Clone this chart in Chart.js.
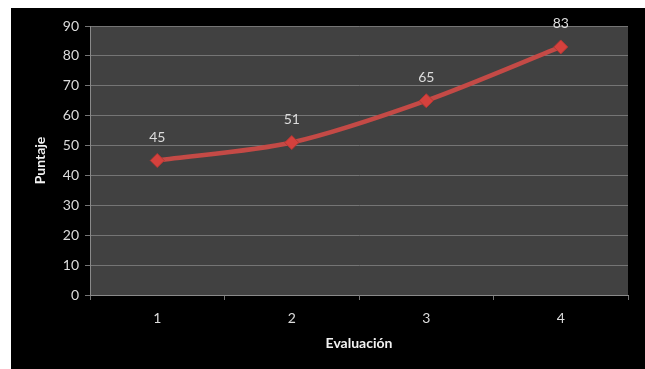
<!DOCTYPE html>
<html>
<head>
<meta charset="utf-8">
<script src="https://cdn.jsdelivr.net/npm/chart.js@4.4.1/dist/chart.umd.min.js"></script>
<style>
  html, body { margin: 0; padding: 0; background: #ffffff; }
  #wrap { position: absolute; left: 11px; top: 8px; width: 634px; height: 361px; background: #000000; }
  canvas { display: block; }
</style>
</head>
<body>
<div id="wrap"><canvas id="c" width="634" height="361"></canvas></div>
<script>
// Scores per evaluation
const evaluaciones = ['1', '2', '3', '4'];
const puntajes = [45, 51, 65, 83];
const yTicks = [0, 10, 20, 30, 40, 50, 60, 70, 80, 90];

const FONT = 'Lato, "Open Sans", sans-serif';
const TEXT = '#dcdcdc';
const GRID = '#757575';

// Dark fill behind the plotting area
const plotBackground = {
  id: 'plotBackground',
  beforeDraw(chart) {
    const { ctx, chartArea: a } = chart;
    ctx.save();
    ctx.fillStyle = '#414141';
    ctx.fillRect(a.left, a.top, a.right - a.left, a.bottom - a.top);
    ctx.restore();
  }
};

// Value written above each marker
const valueLabels = {
  id: 'valueLabels',
  afterDatasetsDraw(chart) {
    const { ctx } = chart;
    const meta = chart.getDatasetMeta(0);
    const data = chart.data.datasets[0].data;
    ctx.save();
    ctx.fillStyle = TEXT;
    ctx.font = '14px ' + FONT;
    ctx.textAlign = 'center';
    ctx.textBaseline = 'middle';
    meta.data.forEach((pt, i) => {
      ctx.fillText(String(data[i]), pt.x, pt.y - 23);
    });
    ctx.restore();
  }
};

new Chart(document.getElementById('c'), {
  type: 'line',
  data: {
    labels: evaluaciones,
    datasets: [{
      data: puntajes,
      borderColor: '#c44a46',
      borderWidth: 4.5,
      tension: 0.3,
      pointStyle: 'rectRot',
      pointRadius: 7,
      pointBackgroundColor: '#d4413d',
      pointBorderColor: '#b23733',
      pointBorderWidth: 1
    }]
  },
  options: {
    responsive: false,
    animation: false,
    layout: { padding: { left: 0, top: 18, right: 17, bottom: 0 } },
    plugins: { legend: { display: false }, tooltip: { enabled: false } },
    scales: {
      x: {
        offset: true,
        grid: { display: true, drawOnChartArea: false, color: GRID, tickLength: 5, offset: true },
        border: { display: true, color: '#8a8a8a', width: 1 },
        ticks: { color: TEXT, font: { family: FONT, size: 14 }, padding: 10 },
        title: { display: true, text: 'Evaluación', color: '#f2f2f2',
                 font: { family: FONT, size: 14, weight: 'bold' }, padding: { top: 0, bottom: 17 } },
        afterFit(s) { s.height = 74; }
      },
      y: {
        min: 0,
        max: 90,
        afterBuildTicks(s) { s.ticks = yTicks.map(v => ({ value: v })); },
        grid: { color: GRID, lineWidth: 1, tickLength: 5 },
        border: { display: true, color: '#8a8a8a', width: 1 },
        ticks: { color: TEXT, font: { family: FONT, size: 14 }, padding: 6 },
        title: { display: true, text: 'Puntaje', color: '#f2f2f2',
                 font: { family: FONT, size: 14, weight: 'bold' }, padding: { top: 21, bottom: 0 } },
        afterFit(s) { s.width = 79; }
      }
    }
  },
  plugins: [plotBackground, valueLabels]
});
</script>
</body>
</html>
